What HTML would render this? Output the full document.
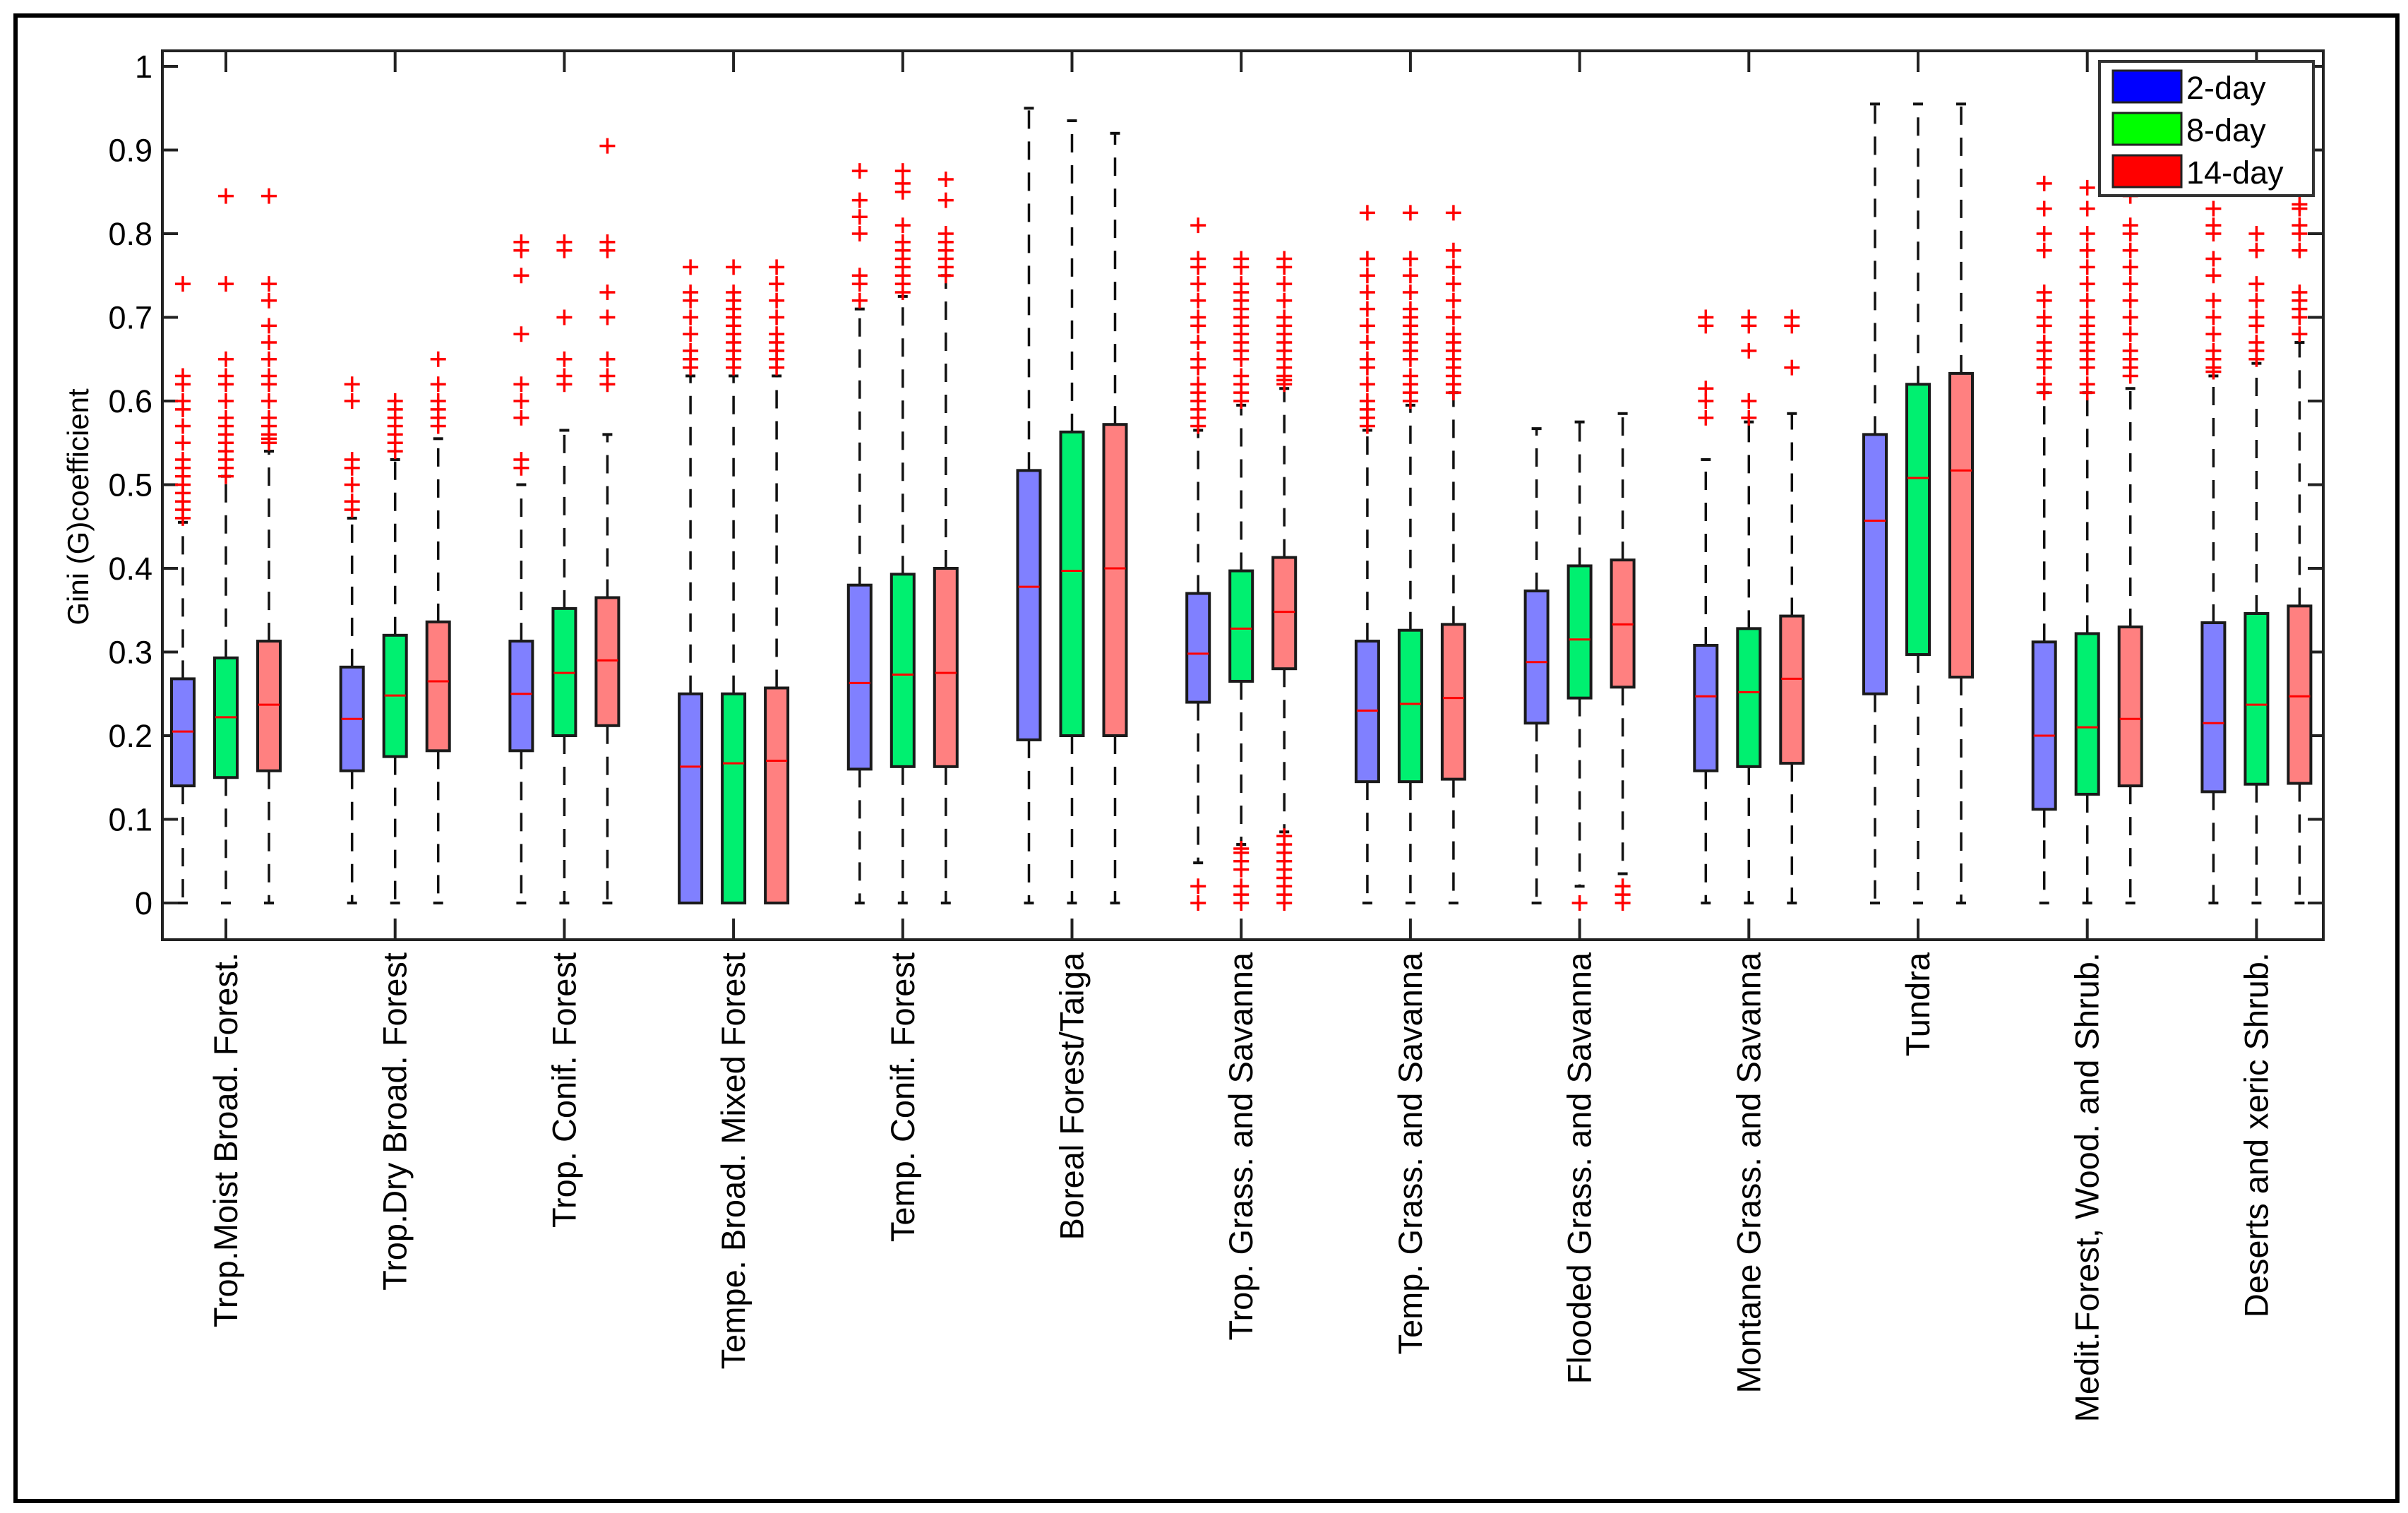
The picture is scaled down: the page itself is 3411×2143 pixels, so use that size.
<!DOCTYPE html>
<html><head><meta charset="utf-8"><style>
html,body{margin:0;padding:0;background:#fff;}
svg{display:block;font-family:"Liberation Sans",Arial,sans-serif;}
</style></head><body>
<svg id="chart" width="3411" height="2143" viewBox="0 0 3411 2143" xmlns="http://www.w3.org/2000/svg">
<rect x="22" y="22" width="3374" height="2104" fill="#fff" stroke="#000" stroke-width="6"/>
<g id="plot"></g>
</svg>
<script>
const categories = ["Trop.Moist Broad. Forest.","Trop.Dry Broad. Forest","Trop. Conif. Forest","Tempe. Broad. Mixed Forest","Temp. Conif. Forest","Boreal Forest/Taiga","Trop. Grass. and Savanna","Temp. Grass. and Savanna","Flooded Grass. and Savanna","Montane Grass. and Savanna","Tundra","Medit.Forest, Wood. and Shrub.","Deserts and xeric Shrub."];
const seriesNames = ["2-day","8-day","14-day"];
const yTicks = [0,0.1,0.2,0.3,0.4,0.5,0.6,0.7,0.8,0.9,1];
const yTickLabels = ["0","0.1","0.2","0.3","0.4","0.5","0.6","0.7","0.8","0.9","1"];
// [whiskerLow, q1, median, q3, whiskerHigh] per category
const stats2day = [[0,.14,.205,.268,.455],[0,.158,.22,.282,.46],[0,.182,.25,.313,.50],[0,0,.163,.25,.63],[0,.16,.263,.38,.71],[0,.195,.378,.517,.95],[.048,.24,.298,.37,.565],[0,.145,.23,.313,.565],[0,.215,.288,.373,.567],[0,.158,.247,.308,.53],[0,.25,.457,.56,.955],[0,.112,.2,.312,.61],[0,.133,.215,.335,.63]];
const stats8day = [[0,.15,.222,.293,.51],[0,.175,.248,.32,.53],[0,.2,.275,.352,.565],[0,0,.167,.25,.63],[0,.163,.273,.393,.725],[0,.2,.397,.563,.935],[.07,.265,.328,.397,.595],[0,.145,.238,.326,.595],[.02,.245,.315,.403,.575],[0,.163,.252,.328,.575],[0,.297,.508,.62,.955],[0,.13,.21,.322,.61],[0,.142,.237,.346,.645]];
const stats14day = [[0,.158,.237,.313,.54],[0,.182,.265,.336,.555],[0,.212,.29,.365,.56],[0,0,.17,.257,.63],[0,.163,.275,.4,.75],[0,.2,.4,.572,.92],[.085,.28,.348,.413,.615],[0,.148,.245,.333,.61],[.035,.258,.333,.41,.585],[0,.167,.268,.343,.585],[0,.27,.517,.633,.955],[0,.14,.22,.33,.615],[0,.143,.247,.355,.67]];
const outliers2day = [[.46,.47,.48,.49,.5,.51,.52,.53,.55,.57,.59,.6,.62,.63,.74],[.47,.48,.5,.52,.53,.6,.62],[.52,.53,.58,.6,.62,.68,.75,.78,.79],[.64,.65,.66,.68,.7,.72,.73,.76],[.72,.74,.75,.8,.82,.84,.875],[],[0,.02,.57,.58,.59,.6,.61,.62,.64,.65,.67,.69,.7,.72,.74,.76,.77,.81],[.57,.58,.59,.6,.62,.64,.65,.67,.69,.71,.73,.75,.77,.825],[],[.58,.6,.615,.69,.70],[],[.61,.62,.64,.65,.66,.67,.69,.7,.72,.73,.78,.8,.83,.86],[.635,.64,.65,.66,.68,.7,.72,.75,.77,.8,.81,.83]];
const outliers8day = [[.51,.52,.53,.54,.55,.56,.57,.58,.6,.62,.63,.65,.74,.845],[.54,.55,.56,.57,.58,.59,.6],[.62,.63,.65,.7,.78,.79],[.64,.65,.66,.67,.68,.69,.7,.71,.72,.73,.76],[.73,.74,.75,.76,.77,.78,.79,.81,.85,.86,.875],[],[0,.01,.02,.04,.05,.06,.065,.6,.61,.62,.63,.65,.66,.67,.68,.69,.7,.71,.72,.73,.74,.76,.77],[.6,.61,.62,.63,.65,.66,.67,.68,.69,.7,.71,.73,.75,.77,.825],[0],[.58,.6,.66,.69,.70],[],[.61,.62,.64,.65,.66,.67,.68,.69,.7,.72,.74,.76,.78,.8,.83,.855],[.65,.66,.67,.69,.7,.72,.74,.78,.8]];
const outliers14day = [[.55,.555,.56,.57,.58,.6,.62,.63,.65,.67,.69,.72,.74,.845],[.57,.58,.59,.6,.62,.65],[.62,.63,.65,.7,.73,.78,.79,.905],[.64,.65,.66,.67,.68,.7,.72,.74,.76],[.75,.76,.77,.78,.79,.8,.84,.865],[],[0,.01,.02,.03,.04,.05,.06,.07,.08,.62,.625,.63,.64,.65,.66,.67,.68,.69,.7,.72,.74,.76,.77],[.61,.62,.63,.64,.65,.66,.67,.68,.7,.72,.74,.76,.78,.825],[0,.01,.02],[.64,.69,.70],[],[.63,.64,.65,.66,.68,.7,.72,.74,.76,.78,.8,.81,.845],[.68,.7,.71,.72,.73,.78,.8,.81,.83,.835]];

const NS="http://www.w3.org/2000/svg";
const plot=document.getElementById('plot');
const AX={l:230,t:72,r:3291,b:1331};
const yPix=v=>1279-v*1185;
const xCat=i=>320+i*239.7;
const offsets=[-61,0,61];
const fills=["#8080ff","#00f070","#ff8080"];
const legendFills=["#0000ff","#00ff00","#ff0000"];
const allStats=[stats2day,stats8day,stats14day];
const allOut=[outliers2day,outliers8day,outliers14day];
function mk(tag,attrs,parent){const e=document.createElementNS(NS,tag);for(const k in attrs)e.setAttribute(k,attrs[k]);(parent||plot).appendChild(e);return e;}

const axbox=mk('rect',{x:AX.l,y:AX.t,width:AX.r-AX.l,height:AX.b-AX.t,fill:'none',stroke:'#222','stroke-width':4});



yTicks.forEach((v,i)=>{
  const y=yPix(v);
  const g=mk('g',{});
  
  
  mk('line',{x1:AX.l,x2:AX.l+22,y1:y,y2:y,stroke:'#222','stroke-width':4},g);
  mk('line',{x1:AX.r-22,x2:AX.r,y1:y,y2:y,stroke:'#222','stroke-width':4},g);
  const t=mk('text',{x:AX.l-14,y:y+16,'text-anchor':'end','font-size':45,fill:'#000'},g);
  t.textContent=yTickLabels[i];
});

categories.forEach((c,i)=>{
  const x=xCat(i);
  const g=mk('g',{});
  
  
  mk('line',{x1:x,x2:x,y1:AX.t,y2:AX.t+30,stroke:'#222','stroke-width':4},g);
  mk('line',{x1:x,x2:x,y1:AX.b-30,y2:AX.b,stroke:'#222','stroke-width':4},g);
  const t=mk('text',{x:0,y:0,'text-anchor':'end','font-size':47,fill:'#000',transform:`translate(${x+16},${AX.b+18}) rotate(-90)`},g);
  
  
  t.textContent=c;
});

allStats.forEach((stats,s)=>{
  stats.forEach((st,i)=>{
    const x=xCat(i)+offsets[s];
    const [lo,q1,md,q3,hi]=st;
    const g=mk('g',{});
    
    
    mk('line',{x1:x,x2:x,y1:yPix(q3),y2:yPix(hi),stroke:'#111','stroke-width':3.5,'stroke-dasharray':'26,18'},g);
    mk('line',{x1:x,x2:x,y1:yPix(q1),y2:yPix(lo),stroke:'#111','stroke-width':3.5,'stroke-dasharray':'26,18'},g);
    mk('line',{x1:x-7,x2:x+7,y1:yPix(hi),y2:yPix(hi),stroke:'#111','stroke-width':4},g);
    mk('line',{x1:x-7,x2:x+7,y1:yPix(lo),y2:yPix(lo),stroke:'#111','stroke-width':4},g);
    mk('rect',{x:x-16,y:yPix(q3),width:32,height:yPix(q1)-yPix(q3),fill:fills[s],stroke:'#1a1a1a','stroke-width':4},g);
    mk('line',{x1:x-15,x2:x+15,y1:yPix(md),y2:yPix(md),stroke:'#ff0000','stroke-width':3},g);
    allOut[s][i].forEach(v=>{
      const y=yPix(v);
      const p=mk('path',{d:`M${x-11} ${y}H${x+11}M${x} ${y-11}V${y+11}`,stroke:'#ff0000','stroke-width':3.5,fill:'none'},g);
      
      
    });
  });
});

const yl=mk('text',{x:0,y:0,'text-anchor':'middle','font-size':42,fill:'#000',transform:'translate(125,718) rotate(-90)'});


yl.textContent='Gini (G)coefficient';

const lg=mk('g',{});


mk('rect',{x:2974,y:87,width:303,height:190,fill:'#fff',stroke:'#333','stroke-width':4},lg);
seriesNames.forEach((n,s)=>{
  const e=mk('g',{},lg);
  
  
  const y=100+s*60;
  mk('rect',{x:2993,y:y,width:97,height:45,fill:legendFills[s],stroke:'#222','stroke-width':3},e);
  const t=mk('text',{x:3097,y:y+40,'font-size':45,fill:'#000'},e);
  t.textContent=n;
});
</script>
</body></html>
